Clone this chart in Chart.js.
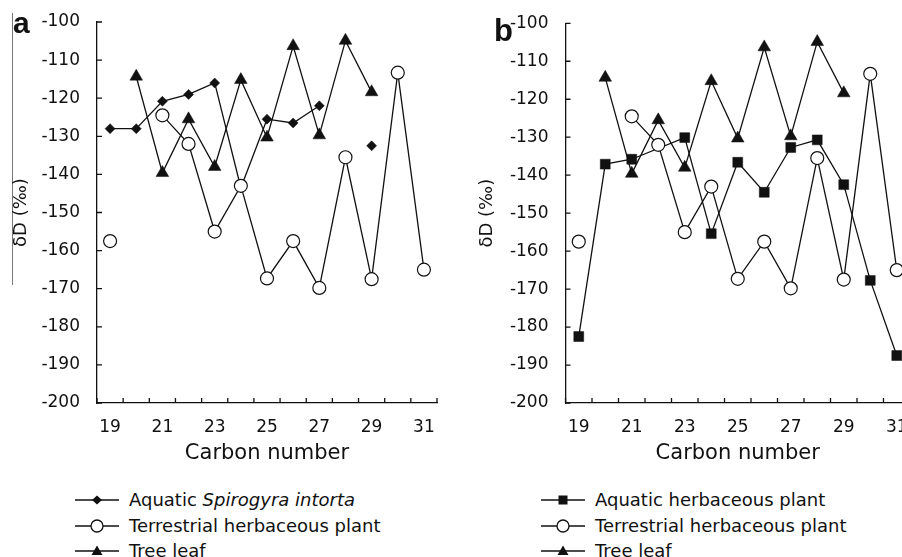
<!DOCTYPE html>
<html>
<head>
<meta charset="utf-8">
<script src="https://cdn.jsdelivr.net/npm/chart.js@4.4.1/dist/chart.umd.min.js"></script>
<style>
  html, body { margin: 0; padding: 0; background: #fff; }
  body { width: 902px; height: 557px; overflow: hidden; position: relative; font-family: "DejaVu Sans", sans-serif; color: #111; }
  .panel { position: absolute; top: 0; }
  .tag { position: absolute; font-family: "Liberation Sans", Arial, sans-serif; font-weight: bold; }
  .leg { position: absolute; height: 24px; line-height: 24px; font-size: 18px; white-space: nowrap; }
  .leg svg { position: absolute; left: 0; top: 5px; }
  .leg span.t { position: absolute; }
  .artifact { position: absolute; left: 12px; top: 13px; width: 1px; height: 272px; background: #777; }
</style>
</head>
<body>
<div class="artifact"></div>
<div class="panel" style="left:0;width:450px;height:470px;"><canvas id="chartA" width="450" height="470"></canvas></div>
<div class="panel" style="left:450px;width:470px;height:470px;"><canvas id="chartB" width="470" height="470"></canvas></div>
<div class="tag" style="left:13px;top:7.6px;font-size:30px;line-height:30px;">a</div>
<div class="tag" style="left:494px;top:15.4px;font-size:31px;line-height:31px;">b</div>
<div id="legendA"></div>
<div id="legendB"></div>

<script>
// carbon numbers on the x axis
const carbon = ['19', '20', '21', '22', '23', '24', '25', '26', '27', '28', '29', '30', '31'];
const yTicks = [-100, -110, -120, -130, -140, -150, -160, -170, -180, -190, -200];

// panel a
const spirogyra   = [-128, -128, -120.8, -119, -116, -143.5, -125.5, -126.5, -122, null, -132.5, null, null];
const terrestrial = [-157.5, null, -124.5, -132, -155, -143, -167.3, -157.5, -169.8, -135.5, -167.5, -113.3, -165];
const treeLeaf    = [null, -114.3, -139.6, -125.5, -138, -115.2, -130.3, -106.3, -129.7, -104.9, -118.4, null, null];
// panel b
const aquaticHerb = [-182.5, -137.1, -135.8, null, -130.1, -155.4, -136.6, -144.5, -132.7, -130.7, -142.5, -167.7, -187.5];

const ink = '#111';

const inwardTicks = {
    id: 'inwardTicks',
    beforeDatasetsDraw(chart){
        const {ctx, chartArea: a, scales: {x, y}} = chart;
        ctx.save();
        ctx.strokeStyle = ink;
        ctx.lineWidth = 1.3;
        ctx.beginPath();
        yTicks.forEach(v => {
            const py = y.getPixelForValue(v);
            ctx.moveTo(a.left, py);
            ctx.lineTo(a.left + 5, py);
        });
        for (let k = 0; k <= carbon.length; k++) {
            const px = x.getPixelForValue(k - 0.5);
            ctx.moveTo(px, a.bottom);
            ctx.lineTo(px, a.bottom - 5);
        }
        ctx.stroke();
        ctx.restore();
    }
};

function series(data, style, extra){
    const s = {
        data: data,
        borderColor: ink,
        borderWidth: 1.3,
        pointBorderColor: ink,
        pointBorderWidth: 1.2,
        pointBackgroundColor: ink,
        spanGaps: false,
        tension: 0
    };
    if (style === 'circle') { s.pointStyle = 'circle'; s.pointRadius = 6.5; s.pointBackgroundColor = '#fff'; }
    if (style === 'diamond') { s.pointStyle = 'rectRot'; s.pointRadius = 5; s.pointBorderWidth = 0.5; }
    if (style === 'triangle') { s.pointStyle = 'triangle'; s.pointRadius = 7.3; s.pointBorderWidth = 0.5; }
    if (style === 'square') { s.pointStyle = 'rect'; s.pointRadius = 7; s.pointBorderWidth = 0.5; }
    return Object.assign(s, extra || {});
}

function makeChart(id, datasets, o){
    return new Chart(document.getElementById(id), {
        type: 'line',
        data: { labels: carbon, datasets: datasets },
        options: {
            responsive: false,
            animation: false,
            layout: { padding: { left: 0, top: o.top, right: o.right, bottom: 0 } },
            plugins: { legend: { display: false }, tooltip: { enabled: false } },
            scales: {
                x: {
                    type: 'category',
                    offset: true,
                    grid: { display: false, offset: true },
                    border: { display: true, color: ink, width: 1.3 },
                    ticks: {
                        autoSkip: false, maxRotation: 0, padding: 6, color: ink,
                        font: { family: 'DejaVu Sans', size: 17 },
                        callback: function(v, i){ return i % 2 === 0 ? carbon[i] : ''; }
                    },
                    title: {
                        display: true, text: 'Carbon number', color: ink,
                        font: { family: 'DejaVu Sans', size: 21 },
                        padding: { top: 0, bottom: 3.5 }
                    },
                    afterFit: s => { s.height = 67; }
                },
                y: {
                    min: -200, max: -100,
                    grid: { display: false },
                    border: { display: true, color: ink, width: 1.3 },
                    ticks: {
                        stepSize: 10, padding: 9, color: ink,
                        font: { family: 'DejaVu Sans', size: 17 }
                    },
                    title: {
                        display: true, text: 'δD (‰)', color: ink,
                        font: { family: 'DejaVu Sans', size: 18 },
                        padding: { top: o.titlePad, bottom: 0 }
                    },
                    afterFit: s => { s.width = o.yWidth; }
                }
            }
        },
        plugins: [inwardTicks]
    });
}

makeChart('chartA', [
    series(terrestrial, 'circle'),
    series(spirogyra, 'diamond'),
    series(treeLeaf, 'triangle')
], { top: 22, right: 13, yWidth: 97, titlePad: 11 });

makeChart('chartB', [
    series(terrestrial, 'circle'),
    series(aquaticHerb, 'square', { spanGaps: true }),
    series(treeLeaf, 'triangle')
], { top: 23.3, right: 10, yWidth: 115.5, titlePad: 27 });

// legends (HTML, for the italic species name)
const markers = {
    diamond: '<polygon points="22,2.5 27,7 22,11.5 17,7" fill="#111"/>',
    circle: '<circle cx="22" cy="7" r="6" fill="#fff" stroke="#111" stroke-width="1.3"/>',
    triangle: '<polygon points="22,1.5 27.5,11 16.5,11" fill="#111"/>',
    square: '<rect x="17.5" y="2.5" width="9" height="9" fill="#111"/>'
};
function legendRow(left, top, marker, html){
    return '<div class="leg" style="left:' + left + 'px;top:' + top + 'px;">' +
        '<svg width="44" height="14"><line x1="0" y1="7" x2="44" y2="7" stroke="#111" stroke-width="1.5"/>' + markers[marker] + '</svg>' +
        '<span class="t" style="left:' + (marker ? 54 : 0) + 'px">' + html + '</span></div>';
}
const rowsA = [
    ['diamond', 'Aquatic <i>Spirogyra intorta</i>'],
    ['circle', 'Terrestrial herbaceous plant'],
    ['triangle', 'Tree leaf']
];
const rowsB = [
    ['square', 'Aquatic herbaceous plant'],
    ['circle', 'Terrestrial herbaceous plant'],
    ['triangle', 'Tree leaf']
];
const rowY = [488, 514, 539];
document.getElementById('legendA').innerHTML = rowsA.map((r, i) => legendRow(75, rowY[i], r[0], r[1])).join('');
document.getElementById('legendB').innerHTML = rowsB.map((r, i) => legendRow(541, rowY[i], r[0], r[1])).join('');
</script>
</body>
</html>
